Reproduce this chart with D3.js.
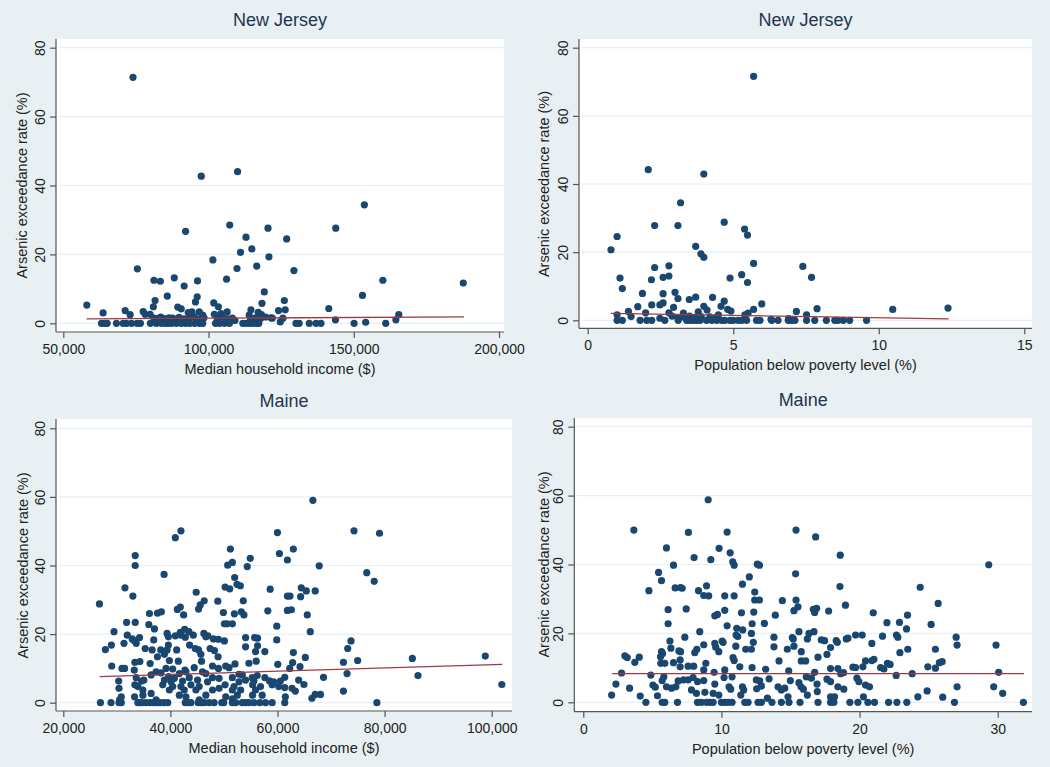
<!DOCTYPE html>
<html><head><meta charset="utf-8">
<script src="https://cdn.jsdelivr.net/npm/d3@7"></script>
<style>
body{margin:0;background:#e9f0f3;}
svg{display:block;font-family:"Liberation Sans",Arial,sans-serif;}
</style></head><body>
<svg id="chart" width="1050" height="767"></svg>
<script>
// ---------------- DATA ----------------
const yTicks = [0, 20, 40, 60, 80];
const njIncomeTicks = [50000, 100000, 150000, 200000];
const njPovertyTicks = [0, 5, 10, 15];
const meIncomeTicks = [20000, 40000, 60000, 80000, 100000];
const mePovertyTicks = [0, 10, 20, 30];

const titles = ["New Jersey", "New Jersey", "Maine", "Maine"];
const xLabels = ["Median household income ($)", "Population below poverty level (%)",
                 "Median household income ($)", "Population below poverty level (%)"];
const yLabel = "Arsenic exceedance rate (%)";

// [x, arsenic exceedance %]
const njIncome = [[74000,71.4],[97500,42.7],[110000,44],[153650,34.4],[107300,28.5],[92100,26.7],[120470,27.6],[143800,27.6],[126900,24.5],[112900,25.0],[114900,21.6],[111000,20.6],[101500,18.4],[120800,19.3],[75500,15.8],[109800,15.9],[116600,16.6],[129400,15.3],[106200,12.8],[160000,12.5],[187700,11.7],[81200,12.5],[83400,12.2],[88200,13.2],[91600,10.8],[96200,12.3],[119200,9.1],[153000,8.1],[85800,7.9],[96100,7.7],[58100,5.3],[81600,6.6],[81000,4.8],[95500,6.2],[101800,5.9],[103400,4.8],[118400,5.8],[126100,6.6],[126400,3.9],[124100,3.7],[141400,4.3],[89400,4.7],[90600,4.2],[114600,3.9],[117100,3.2],[106400,3.3],[63700,3.0],[71300,3.7],[73000,2.5],[77500,3.4],[78200,2.6],[79900,2.6],[93000,3.1],[94300,3.3],[96800,3.3],[98000,2.4],[102000,2.6],[104300,2.8],[165500,2.5],[164500,1.0],[118200,2.5],[121500,1.6],[125600,1.5],[143700,1.0],[83000,1.5],[87600,1.5],[109100,0.8],[124700,0.4],[114000,2.4],
[81270,1.5],[82430,1.2],[83570,1.8],[84700,1.4],[86420,1.6],[88140,1.2],[89860,1.7],[91580,1.3],[93290,1.5],[95010,1.9],[96730,1.2],[98450,1.6],[103050,1.4],[104770,1.8],[106490,1.3],[108210,1.5],[114490,1.2],[116210,1.6],[117930,1.4],[119650,1.8],[121950,1.5],[154100,0.3],
[63160,0],[64300,0],[65100,0],[68300,0],[70600,0],[71700,0],[73450,0],[75400,0],[76550,0],[80000,0],[82000,0],[83750,0],[85200,0],[86000,0],[87200,0],[88900,0],[90600,0],[92100,0],[93500,0],[95200,0],[96900,0],[98000,0],[102400,0],[103800,0],[105500,0],[107200,0],[111800,0],[112900,0],[114100,0],[115200,0],[116400,0],[117300,0],[130100,0],[131200,0],[134700,0],[137000,0],[138700,0],[150100,0],[161000,0]];

const njPoverty = [[5.70,71.6],[2.08,44.2],[3.99,42.9],[3.19,34.5],[4.69,28.8],[2.30,27.8],[3.10,27.8],[5.39,26.8],[5.49,25.0],[1.01,24.6],[0.80,20.7],[3.71,21.7],[3.89,19.5],[3.99,18.5],[5.70,16.7],[7.39,15.8],[2.30,15.5],[2.79,16.0],[1.11,12.4],[2.59,12.6],[2.79,13.0],[2.19,11.9],[4.89,12.4],[5.29,13.4],[5.49,11.1],[7.69,12.6],[1.19,9.3],[1.88,7.9],[2.59,7.8],[3.00,8.2],[3.10,6.4],[3.71,6.8],[3.49,6.1],[4.29,6.7],[4.69,5.6],[5.98,4.8],[2.20,4.5],[2.48,4.5],[2.59,5.1],[4.58,4.1],[3.99,4.1],[1.72,4.0],[1.40,2.6],[2.95,3.8],[4.81,3.2],[4.92,2.7],[5.70,3.2],[7.88,3.4],[7.17,2.6],[10.48,3.2],[12.38,3.6],[4.10,3.0],[2.79,2.2],[1.99,2.2],[1.49,1.1],[1.01,1.6],[3.29,2.1],[3.80,2.5],[4.49,1.6],[5.40,1.6],[5.51,2.1],[7.52,1.6],[2.48,0.6],[3.3,1.0],[3.5,1.2],[3.7,0.9],[3.9,1.1],[4.2,1.0],[4.4,0.8],[6.3,0.3],[6.9,0.5],[2.9,1.2],[3.1,0.7],
[1.01,0],[1.19,0],[1.80,0],[2.03,0],[2.20,0],[2.65,0],[3.11,0],[3.40,0],[3.51,0],[3.63,0],[3.74,0],[3.86,0],[4.08,0],[4.26,0],[4.43,0],[4.60,0],[4.71,0],[4.89,0],[5.00,0],[5.17,0],[5.29,0],[5.46,0],[5.80,0],[5.92,0],[6.32,0],[6.54,0],[6.89,0],[7.00,0],[7.12,0],[7.52,0],[7.80,0],[8.20,0],[8.49,0],[8.60,0],[8.78,0],[9.00,0],[9.58,0]];

const meIncome = [[66610,59.0],[41970,50.1],[40920,48.1],[59990,49.6],[74290,50.1],[79050,49.4],[51200,44.8],[62960,44.8],[60360,43.5],[33430,42.9],[54910,42.1],[61850,41.6],[51570,40.9],[50700,40.1],[33430,40.0],[67790,39.9],[54350,39.7],[76670,37.9],[38820,37.4],[52000,36.5],[78060,35.4],[52440,34.5],[53060,34.1],[50210,33.7],[51080,33.2],[31510,33.5],[58630,33.1],[64440,33.5],[65370,32.6],[67040,32.6],[32990,31.1],[44820,32.2],[61850,31.1],[62340,31.1],[64320,30.9],[46310,29.7],[48850,29.6],[53610,29.7],[26750,28.8],[45570,28.5],[45260,27.3],[41850,27.9],[41300,27.2],[58190,26.8],[61850,26.9],[62590,27.1],[36090,26.0],[37580,26.1],[38320,26.5],[49900,26.3],[51940,25.9],[53240,26.5],[53730,25.6],[42470,25.6],[65560,25.6],[31820,23.4],[33430,23.4],[50080,23.0],[50580,23.0],[51570,23.0],[35970,22.8],[59860,22.3],[37020,21.5],[41850,20.5],[42660,21.4],[43460,20.7],[29470,20.7],[66120,20.7],[31950,19.7],[39380,20.2],[39620,19.2],[40920,19.5],[41970,19.7],[42780,19.1],[44270,19.7],[46250,20.2],[46620,19.2],[47000,19.5],[48040,18.6],[48970,18.5],[50080,18.0],[34240,19.0],[32870,18.6],[33240,18.1],[36890,18.3],[55720,19.0],[56270,18.8],[54040,19.0],[59860,18.3],[31330,17.3],[33610,17.3],[28980,16.8],[39620,16.8],[43580,16.8],[54040,16.3],[56270,16.6],[73730,18.0],[27860,15.5],[35290,15.8],[36590,15.4],[38200,15.4],[39380,15.4],[41170,15.4],[44640,15.8],[45260,15.4],[47420,15.8],[48230,15.2],[73110,15.8],[55900,14.9],[57640,14.9],[62960,14.6],[38880,14.1],[37580,13.4],[45690,14.1],[48910,13.4],[65190,13.2],[85180,12.9],[98800,13.6],[74970,12.3],[72310,11.8],[56020,12.1],[41480,12.1],[33370,11.8],[34300,12.0],[36220,11.4],[39810,12.3],[45810,12.1],[62830,11.7],[52060,11.3],[54660,11.5],[60050,11.2],[29040,10.7],[30960,10.0],[31450,10.0],[33250,9.5],[39190,10.0],[40430,9.8],[42720,9.5],[44450,10.2],[47860,10.7],[48970,10.0],[50330,10.7],[50950,10.2],[62280,10.0],[64200,10.5],[37330,9.0],[38260,8.7],[41670,8.5],[42900,9.0],[45990,9.0],[46620,8.5],[52810,8.3],[53430,8.1],[72990,8.5],[86230,7.9],[68590,7.4],[61350,7.4],[33610,7.3],[36400,8.1],[39680,7.6],[40740,7.1],[43520,7.3],[47860,7.3],[49090,7.1],[51570,7.3],[55280,7.3],[56210,7.9],[57640,7.3],[30340,6.3],[34610,6.3],[35040,6.6],[38880,6.6],[40120,6.1],[42280,6.3],[45070,6.6],[46930,6.1],[52810,6.1],[54040,6.6],[55590,6.3],[58500,6.4],[59300,6.1],[63950,6.6],[64940,5.3],[60540,6.3],[101890,5.3],[33370,5.2],[33930,4.7],[38570,5.2],[40430,4.7],[41970,4.7],[43830,5.2],[45380,4.7],[49090,4.2],[50210,5.2],[51880,4.7],[55350,5.2],[56830,4.7],[59000,5.2],[60240,4.7],[61350,4.4],[62710,4.2],[30400,4.2],[34860,3.7],[39810,3.7],[42590,3.7],[44760,3.7],[47860,3.7],[51570,3.7],[53120,3.7],[55900,3.7],[63330,3.4],[72310,3.4],[33310,1.7],[30830,1.7],[34860,2.2],[36400,2.7],[41670,2.2],[42900,1.7],[46620,2.2],[50330,1.7],[52500,2.2],[55350,2.2],[57140,2.2],[67040,2.4],[68030,2.4],[66420,1.3],[61470,1.7],[30520,0.8],[37330,0.8],[45380,0.8],[51570,1.1],
[26930,0],[28910,0],[30400,0],[30830,0],[33930,0],[34240,0],[34730,0],[35480,0],[36220,0],[36840,0],[37460,0],[38070,0],[38820,0],[39500,0],[42780,0],[43210,0],[43830,0],[45190,0],[45750,0],[46310,0],[47240,0],[48160,0],[49590,0],[49960,0],[51570,0],[52190,0],[53430,0],[54050,0],[54660,0],[55590,0],[56710,0],[57760,0],[59000,0],[61350,0],[78560,0]];

const mePoverty = [[9.04,58.8],[3.66,50.0],[7.61,49.3],[10.41,49.4],[15.40,50.0],[16.82,48.0],[6.02,44.8],[9.83,44.7],[10.63,43.4],[18.60,42.7],[8.02,42.0],[9.23,41.4],[10.82,40.8],[10.92,39.8],[12.60,40.1],[12.75,39.8],[6.53,39.8],[29.35,39.9],[5.45,37.7],[15.37,37.3],[12.02,36.4],[5.66,35.3],[11.52,34.3],[8.92,33.8],[18.58,33.6],[24.39,33.4],[6.65,33.2],[7.04,33.3],[7.16,33.1],[4.75,32.4],[8.34,32.4],[12.41,32.0],[8.72,31.0],[9.08,30.9],[10.24,30.9],[10.92,30.9],[12.41,29.7],[12.75,29.7],[14.41,29.5],[15.40,29.7],[25.69,28.7],[18.98,28.2],[6.14,26.9],[7.45,27.1],[10.24,26.7],[15.54,27.7],[15.25,26.6],[16.65,27.0],[16.89,27.3],[16.75,26.1],[17.76,26.5],[12.34,26.2],[11.45,26.0],[20.99,26.0],[9.71,25.5],[9.52,25.1],[13.90,25.3],[23.47,25.3],[6.14,22.8],[13.11,22.9],[10.41,22.2],[12.22,22.8],[21.98,23.1],[22.89,23.2],[25.18,22.6],[23.40,21.3],[8.43,20.5],[11.11,21.5],[11.54,21.0],[15.61,20.5],[16.34,20.0],[16.70,20.5],[12.17,20.0],[11.06,19.5],[11.18,19.1],[13.80,18.9],[15.13,18.8],[15.20,18.4],[16.22,18.4],[7.35,18.9],[19.04,18.4],[19.16,18.6],[19.71,19.5],[20.19,19.5],[21.66,19.2],[22.67,19.5],[22.77,18.9],[26.99,18.9],[27.06,16.6],[29.88,16.6],[9.52,17.1],[10.05,17.8],[6.27,17.8],[10.12,17.4],[12.31,17.4],[17.23,18.1],[17.47,17.9],[18.31,17.9],[18.39,17.4],[8.72,16.7],[11.04,16.3],[13.80,16.1],[11.76,15.4],[12.17,15.4],[9.59,16.0],[14.77,15.4],[15.25,16.3],[17.90,15.9],[20.89,17.1],[23.49,15.4],[25.49,15.4],[6.34,15.7],[5.66,14.7],[5.74,14.2],[6.92,14.9],[7.04,14.7],[8.22,15.4],[8.07,14.4],[9.81,14.7],[15.78,14.7],[17.64,13.9],[22.92,14.4],[3.01,13.5],[3.18,13.0],[4.05,13.1],[5.59,13.2],[10.84,13.0],[16.99,13.1],[3.73,11.6],[5.61,11.3],[5.90,11.3],[6.53,11.5],[7.01,12.3],[10.92,12.1],[14.17,12.0],[15.78,12.0],[16.10,12.0],[20.43,12.0],[20.89,12.1],[21.04,12.5],[25.78,11.5],[25.98,11.8],[25.49,9.9],[24.94,10.3],[22.02,11.3],[8.87,11.3],[11.33,10.3],[7.01,10.3],[7.59,10.5],[7.99,10.5],[10.24,9.4],[12.22,10.1],[13.20,9.6],[18.43,9.8],[17.90,9.8],[19.52,10.2],[19.71,10.1],[20.24,10.3],[21.52,10.1],[21.76,9.7],[22.21,11.0],[8.72,9.4],[14.87,9.1],[2.77,8.5],[4.89,7.9],[30.07,8.7],[29.71,4.5],[30.36,2.6],[31.86,0],[23.81,8.3],[22.65,7.8],[18.84,8.6],[18.63,8.3],[16.75,8.7],[9.47,8.7],[10.19,7.2],[10.77,7.4],[13.45,6.8],[16.14,7.4],[16.51,7.0],[5.83,7.4],[7.95,7.2],[6.87,6.2],[7.25,6.5],[7.59,6.5],[8.27,6.0],[8.72,6.3],[12.53,6.5],[12.77,6.2],[14.99,6.3],[15.61,5.7],[17.64,6.7],[17.90,6.0],[19.81,7.0],[19.95,6.0],[2.36,5.3],[5.04,5.0],[5.21,4.4],[5.71,6.3],[6.02,4.5],[6.39,4.1],[6.70,4.5],[9.52,5.3],[10.55,4.5],[10.67,3.8],[11.52,4.5],[11.61,3.6],[12.55,3.9],[12.89,4.7],[14.10,4.5],[14.34,3.6],[14.58,4.1],[15.76,4.5],[15.93,3.8],[16.92,5.3],[16.94,3.1],[18.43,4.5],[18.86,3.8],[20.43,5.0],[20.72,4.5],[24.89,3.3],[27.06,4.5],[3.35,4.1],[4.12,1.8],[2.05,2.1],[5.37,1.9],[7.83,3.6],[8.19,2.6],[8.80,2.9],[9.40,2.6],[9.81,2.1],[11.40,2.1],[13.33,1.2],[14.82,1.6],[16.22,2.1],[17.90,1.6],[18.19,1.6],[20.28,1.6],[24.22,1.6],[26.02,1.5],
[4.53,0],[5.71,0],[5.90,0],[6.82,0],[8.27,0],[8.55,0],[8.92,0],[9.16,0],[9.40,0],[10.0,0],[10.24,0],[10.48,0],[10.77,0],[11.69,0],[11.93,0],[12.65,0],[12.89,0],[13.66,0],[14.34,0],[14.89,0],[15.69,0],[16.99,0],[17.90,0],[18.14,0],[19.30,0],[19.88,0],[20.60,0],[21.08,0],[22.10,0],[22.70,0],[23.42,0],[26.87,0]];

// fitted (linear) lines: [x, y] end points
const njIncomeFit = [[58000,1.3],[188000,1.85]];
const njPovertyFit = [[0.8,2.05],[12.4,0.4]];
const meIncomeFit = [[26800,7.6],[102000,11.2]];
const mePovertyFit = [[2.1,8.3],[31.9,8.3]];

// ---------------- LAYOUT ----------------
const panels = [
  {data:njIncome, fit:njIncomeFit, ticks:njIncomeTicks, dom:[50000,200000], fmt:d3.format(","),
   L:56, T:39, R:504, B:332, xr:[63.3,499], yr:[323.3,47.7], ytx:22, tY:25.5},
  {data:njPoverty, fit:njPovertyFit, ticks:njPovertyTicks, dom:[0,15], fmt:d3.format("d"),
   L:579, T:39, R:1032, B:328.3, xr:[587.7,1024.3], yr:[320.3,47.7], ytx:544, tY:25.5},
  {data:meIncome, fit:meIncomeFit, ticks:meIncomeTicks, dom:[20000,100000], fmt:d3.format(","),
   L:56, T:419, R:512, B:711, xr:[63.3,491.7], yr:[702.7,428.3], ytx:23, tY:407},
  {data:mePoverty, fit:mePovertyFit, ticks:mePovertyTicks, dom:[0,30], fmt:d3.format("d"),
   L:574.3, T:418, R:1032, B:711.7, xr:[583.3,997.7], yr:[702.3,426.7], ytx:544, tY:406}
];

const svg = d3.select("#chart");
svg.append("rect").attr("width",1050).attr("height",767).attr("fill","#e9f0f3");

panels.forEach((p,i)=>{
  const g = svg.append("g");
  const x = d3.scaleLinear().domain(p.dom).range(p.xr);
  const y = d3.scaleLinear().domain([0,80]).range(p.yr);

  g.append("rect").attr("x",p.L).attr("y",p.T).attr("width",p.R-p.L).attr("height",p.B-p.T).attr("fill","#ffffff");

  // gridlines
  g.selectAll(".grid").data(yTicks).join("line")
    .attr("x1",p.L+2).attr("x2",p.R).attr("y1",d=>y(d)).attr("y2",d=>y(d))
    .attr("stroke","#e6eff3").attr("stroke-width",1.2);

  // y axis
  const ya = g.append("g").attr("transform",`translate(${p.L},0)`)
    .call(d3.axisLeft(y).tickValues(yTicks).tickSize(6).tickFormat(d3.format("d")));
  ya.select(".domain").attr("d",`M0,${p.T}V${p.B}`).attr("stroke","#555").attr("stroke-width",1.2);
  ya.selectAll(".tick line").attr("stroke","#555").attr("stroke-width",1.2);
  ya.selectAll(".tick text").attr("x",0).attr("dy",0)
    .attr("transform","translate(-16,0) rotate(-90)")
    .attr("text-anchor","middle").attr("dy","0.36em")
    .attr("font-size",14).attr("fill","#222").style("font-family","Liberation Sans, Arial, sans-serif");

  // x axis
  const xa = g.append("g").attr("transform",`translate(0,${p.B})`)
    .call(d3.axisBottom(x).tickValues(p.ticks).tickSize(6).tickFormat(p.fmt));
  xa.select(".domain").attr("d",`M${p.L},0H${p.R}`).attr("stroke","#555").attr("stroke-width",1.2);
  xa.selectAll(".tick line").attr("stroke","#555").attr("stroke-width",1.2);
  xa.selectAll(".tick text").attr("y",22).attr("dy",0)
    .attr("font-size",14).attr("fill","#222").style("font-family","Liberation Sans, Arial, sans-serif");

  // points
  g.selectAll(".pt").data(p.data).join("circle")
    .attr("cx",d=>x(d[0])).attr("cy",d=>y(d[1])).attr("r",3.6)
    .attr("fill","#1a476f");

  // fitted line
  g.append("path").datum(p.fit)
    .attr("d",d3.line().x(d=>x(d[0])).y(d=>y(d[1])))
    .attr("fill","none").attr("stroke","#9e3a42").attr("stroke-width",1.3);

  // titles
  const cx = (p.L+p.R)/2;
  g.append("text").attr("x",cx).attr("y",p.tY).attr("text-anchor","middle")
    .attr("font-size",18).attr("fill","#1e3550").text(titles[i]);
  g.append("text").attr("x",cx).attr("y",p.B+42).attr("text-anchor","middle")
    .attr("font-size",14.5).attr("fill","#222").text(xLabels[i]);
  const ym = (p.yr[0]+p.yr[1])/2;
  g.append("text").attr("transform",`translate(${p.ytx},${ym}) rotate(-90)`)
    .attr("text-anchor","middle").attr("dy","0.36em")
    .attr("font-size",14.5).attr("fill","#222").text(yLabel);
});
</script>
</body></html>
